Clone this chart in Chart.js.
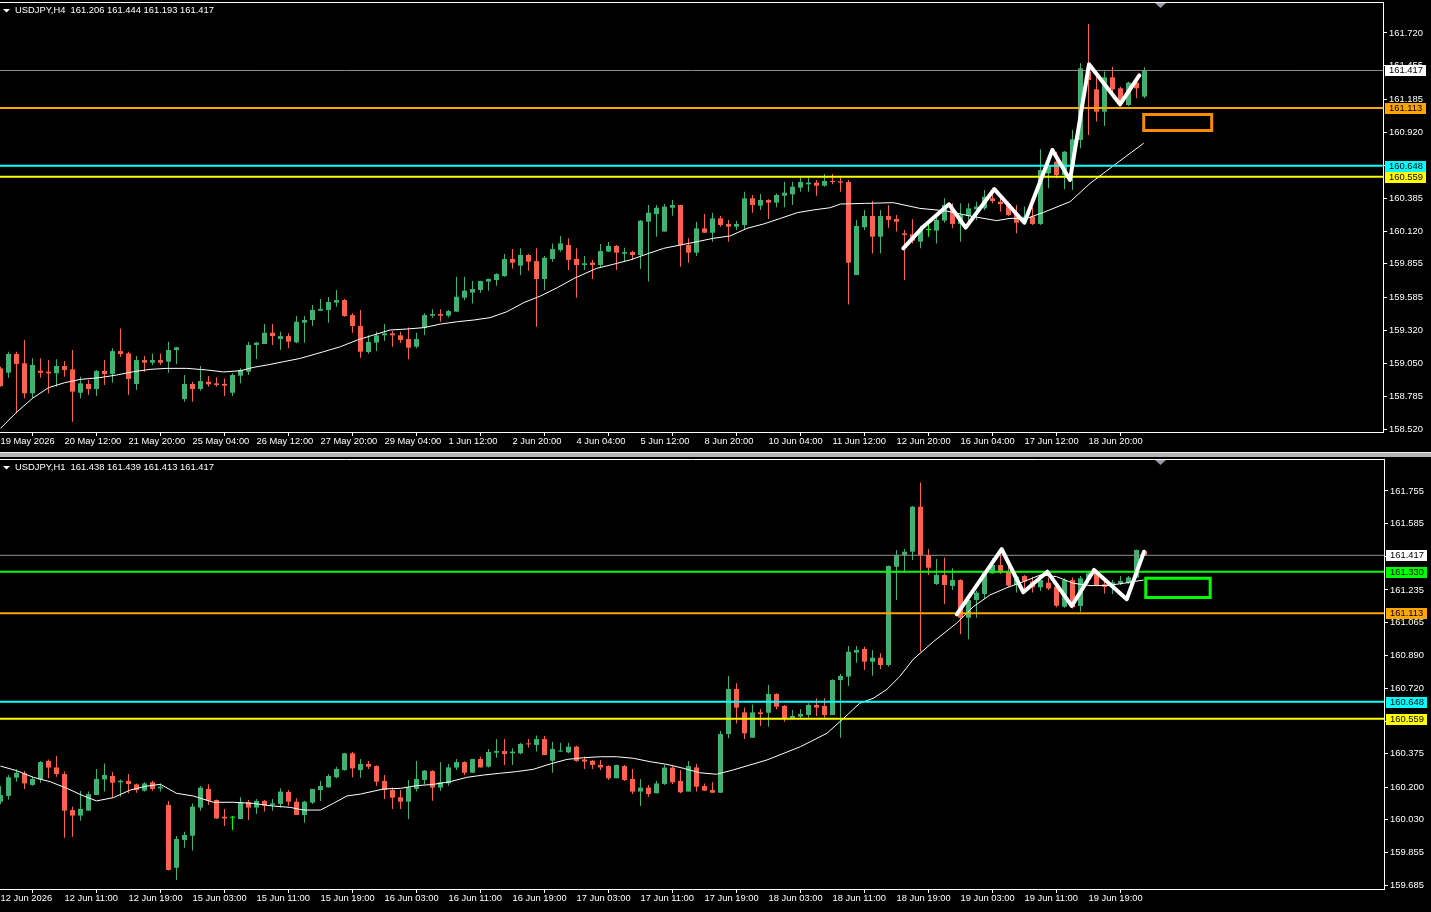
<!DOCTYPE html>
<html lang="en">
<head>
<meta charset="UTF-8">
<title>USDJPY H4 / H1</title>
<script src="https://cdn.jsdelivr.net/npm/chart.js@4.4.1/dist/chart.umd.min.js"></script>
<style>
  html, body { margin: 0; padding: 0; background: #000; overflow: hidden; }
  .pane { position: absolute; left: 0; width: 1431px; }
  .pane canvas { display: block; }
  #sep { position: absolute; left: 0; top: 452px; width: 1431px; height: 5px; background: #b4b4b4; border-top: 1px solid #e8e8e8; box-sizing: border-box; }
</style>
</head>
<body>
<div class="pane" style="top:0;height:452px"><canvas id="h4Chart" width="1431" height="452"></canvas></div>
<div id="sep"></div>
<div class="pane" style="top:458px;height:454px"><canvas id="h1Chart" width="1431" height="454"></canvas></div>

<script>
// ---------- H4 pane ----------
const h4TickIdx = [0, 8, 16, 24, 32, 40, 48, 56, 64, 72, 80, 88, 96, 104, 112, 120, 128, 136];
const h4TickLabels = ['19 May 2026', '20 May 12:00', '21 May 20:00', '25 May 04:00', '26 May 12:00', '27 May 20:00',
  '29 May 04:00', '1 Jun 12:00', '2 Jun 20:00', '4 Jun 04:00', '5 Jun 12:00', '8 Jun 20:00', '10 Jun 04:00',
  '11 Jun 12:00', '12 Jun 20:00', '16 Jun 04:00', '17 Jun 12:00', '18 Jun 20:00'];
const h4PriceTicks = [161.720, 161.455, 161.185, 160.920, 160.650, 160.385, 160.120, 159.855, 159.585, 159.320, 159.050, 158.785, 158.520];

const h4Open = [
  159.010, 158.975, 159.126, 159.051, 158.808, 158.991, 158.983, 158.970, 159.029, 159.002,
  158.813, 158.884, 158.843, 158.989, 158.964, 159.150, 159.131, 158.884, 159.077, 159.056,
  159.077, 159.064, 159.158, 158.762, 158.884, 158.843, 158.902, 158.889, 158.884, 158.813,
  158.951, 158.983, 159.199, 159.207, 159.298, 159.247, 159.271, 159.220, 159.379, 159.401,
  159.476, 159.482, 159.541, 159.562, 159.441, 159.352, 159.142, 159.218, 159.277, 159.293,
  159.277, 159.247, 159.185, 159.339, 159.436, 159.449, 159.436, 159.468, 159.581, 159.622,
  159.643, 159.711, 159.724, 159.756, 159.894, 159.840, 159.926, 159.877, 159.732, 159.894,
  159.966, 160.007, 159.894, 159.845, 159.864, 159.845, 159.953, 159.999, 159.937, 159.950,
  159.926, 160.195, 160.257, 160.115, 160.308, 160.330, 160.007, 159.945, 160.141, 160.106,
  160.222, 160.177, 160.155, 160.168, 160.384, 160.325, 160.371, 160.349, 160.405, 160.416,
  160.470, 160.497, 160.511, 160.486, 160.524, 160.521, 160.516, 159.764, 160.150, 160.241,
  160.074, 160.241, 160.217, 160.101, 160.093, 160.034, 160.128, 160.123, 160.204, 160.295,
  160.177, 160.241, 160.295, 160.303, 160.384, 160.357, 160.338, 160.263, 160.214, 160.236,
  160.177, 160.586, 160.680, 160.572, 160.640, 160.855, 161.408, 161.265, 161.084, 161.362,
  161.273, 161.138, 161.319, 161.206];
const h4High = [
  159.024, 159.145, 159.145, 159.239, 159.091, 159.091, 159.077, 159.083, 159.069, 159.158,
  158.943, 158.916, 158.997, 159.077, 159.172, 159.333, 159.145, 159.110, 159.110, 159.131,
  159.131, 159.226, 159.185, 158.956, 158.902, 159.029, 158.948, 158.937, 158.929, 158.970,
  159.010, 159.226, 159.223, 159.368, 159.368, 159.306, 159.293, 159.433, 159.433, 159.522,
  159.570, 159.587, 159.643, 159.570, 159.455, 159.482, 159.277, 159.306, 159.368, 159.312,
  159.306, 159.341, 159.298, 159.455, 159.487, 159.487, 159.482, 159.751, 159.751, 159.716,
  159.719, 159.737, 159.778, 159.934, 159.974, 159.980, 159.934, 159.980, 159.918, 160.020,
  160.080, 160.061, 159.980, 159.918, 159.886, 160.015, 160.031, 160.007, 159.985, 159.961,
  160.209, 160.330, 160.330, 160.338, 160.371, 160.330, 160.061, 160.195, 160.257, 160.268,
  160.241, 160.209, 160.201, 160.438, 160.411, 160.419, 160.376, 160.424, 160.519, 160.519,
  160.551, 160.551, 160.532, 160.581, 160.581, 160.551, 160.532, 160.209, 160.290, 160.362,
  160.290, 160.330, 160.249, 160.128, 160.214, 160.163, 160.182, 160.263, 160.384, 160.344,
  160.344, 160.344, 160.357, 160.451, 160.438, 160.411, 160.357, 160.330, 160.317, 160.311,
  160.780, 160.680, 160.761, 160.766, 160.936, 161.475, 161.793, 161.381, 161.408, 161.448,
  161.286, 161.327, 161.340, 161.444];
const h4Low = [
  158.862, 158.935, 158.646, 158.768, 158.768, 158.935, 158.808, 158.862, 158.943, 158.579,
  158.768, 158.795, 158.787, 158.876, 158.894, 159.104, 158.795, 158.835, 158.983, 159.037,
  159.037, 158.975, 159.045, 158.741, 158.741, 158.830, 158.862, 158.862, 158.787, 158.787,
  158.889, 158.956, 159.086, 159.207, 159.199, 159.158, 159.172, 159.212, 159.218, 159.352,
  159.476, 159.379, 159.508, 159.428, 159.298, 159.096, 159.129, 159.150, 159.231, 159.185,
  159.218, 159.083, 159.172, 159.279, 159.420, 159.387, 159.422, 159.468, 159.562, 159.535,
  159.622, 159.638, 159.678, 159.751, 159.818, 159.764, 159.799, 159.347, 159.643, 159.872,
  159.953, 159.805, 159.581, 159.805, 159.732, 159.826, 159.950, 159.805, 159.878, 159.886,
  159.813, 159.711, 160.074, 160.115, 160.244, 159.832, 159.864, 159.918, 160.106, 160.034,
  160.155, 160.034, 160.128, 160.128, 160.268, 160.290, 160.217, 160.311, 160.311, 160.330,
  160.438, 160.438, 160.405, 160.478, 160.497, 160.438, 159.527, 159.764, 160.128, 159.939,
  159.939, 160.147, 160.115, 159.724, 160.020, 159.980, 160.074, 160.020, 160.187, 160.142,
  160.034, 160.195, 160.209, 160.290, 160.344, 160.276, 160.241, 160.101, 160.182, 160.168,
  160.168, 160.465, 160.546, 160.457, 160.451, 160.788, 160.896, 161.004, 160.969, 161.206,
  161.125, 161.130, 161.192, 161.193];
const h4Close = [
  158.867, 159.126, 159.045, 158.808, 159.037, 158.975, 158.970, 159.029, 158.997, 158.822,
  158.889, 158.843, 158.989, 158.964, 159.150, 159.126, 158.924, 159.077, 159.056, 159.077,
  159.056, 159.158, 159.180, 158.884, 158.843, 158.908, 158.881, 158.876, 158.870, 158.956,
  158.997, 159.199, 159.218, 159.298, 159.271, 159.271, 159.226, 159.387, 159.401, 159.482,
  159.490, 159.546, 159.562, 159.433, 159.352, 159.145, 159.223, 159.277, 159.293, 159.277,
  159.239, 159.177, 159.247, 159.441, 159.449, 159.436, 159.473, 159.589, 159.638, 159.651,
  159.716, 159.732, 159.772, 159.894, 159.864, 159.926, 159.872, 159.732, 159.904, 159.974,
  160.020, 159.886, 159.845, 159.859, 159.845, 159.958, 159.999, 159.945, 159.950, 159.926,
  160.203, 160.268, 160.308, 160.317, 160.330, 160.007, 159.945, 160.141, 160.106, 160.222,
  160.168, 160.155, 160.177, 160.384, 160.330, 160.371, 160.349, 160.411, 160.430, 160.478,
  160.516, 160.511, 160.486, 160.524, 160.516, 160.511, 159.864, 160.160, 160.241, 160.074,
  160.241, 160.209, 160.195, 160.088, 160.042, 160.128, 160.128, 160.209, 160.330, 160.177,
  160.249, 160.303, 160.317, 160.397, 160.362, 160.338, 160.249, 160.187, 160.236, 160.177,
  160.613, 160.653, 160.572, 160.761, 160.861, 161.434, 161.340, 161.084, 161.362, 161.265,
  161.146, 161.319, 161.273, 161.417];

// moving average (bar index, price)
const h4MaX = [0, 2, 4, 6, 8, 10, 12.4, 14.5, 16.6, 18.7, 20.8, 23.3, 25.8, 27.9, 30, 31.6, 33.3, 35.4, 37.5,
  40.4, 42.5, 44.6, 46.6, 48.7, 50.8, 52.9, 55, 57.1, 59.2, 61.2, 63.3, 65.4, 67.5, 69.6, 71.7,
  74.5, 76.6, 78.7, 80.8, 82.9, 85, 87.1, 89.1, 91.2, 93.3, 95.4, 97.5, 99.6, 101.6, 103.7, 105, 108,
  111.6, 114.9, 118.2, 121.2, 124.5, 126.2, 128.3, 130.4, 133.7, 136.2, 138.7, 141.2, 142.9];
const h4MaY = [158.525, 158.655, 158.768, 158.854, 158.894, 158.921, 158.935, 158.956, 158.983, 159.002, 159.010,
  159.010, 158.997, 158.981, 158.991, 159.018, 159.037, 159.064, 159.091,
  159.145, 159.185, 159.239, 159.279, 159.320, 159.328, 159.339, 159.368, 159.387, 159.401, 159.420, 159.468,
  159.541, 159.595, 159.662, 159.737,
  159.818, 159.851, 159.886, 159.934, 159.980, 160.007, 160.034, 160.061, 160.080, 160.141, 160.177, 160.222,
  160.268, 160.290, 160.308, 160.338, 160.343,
  160.349, 160.303, 160.282, 160.241, 160.204, 160.222, 160.222, 160.271, 160.357, 160.505, 160.627, 160.748, 160.829];

// hand-drawn zigzag and target box
const h4ZigX = [112.85, 115.35, 118.56, 120.65, 124.23, 127.98, 131.48, 133.69, 136.06, 139.94, 142.35];
const h4ZigY = [159.980, 160.155, 160.336, 160.147, 160.459, 160.187, 160.775, 160.532, 161.467, 161.144, 161.378];
const h4BoxX = [142.9, 151.4];
const h4BoxY = [161.061, 160.932];
const h4Levels = [161.417, 161.113, 160.648, 160.559];

// ---------- H1 pane ----------
const h1TickIdx = [0, 8, 16, 24, 32, 40, 48, 56, 64, 72, 80, 88, 96, 104, 112, 120, 128, 136];
const h1TickLabels = ['12 Jun 2026', '12 Jun 11:00', '12 Jun 19:00', '15 Jun 03:00', '15 Jun 11:00', '15 Jun 19:00',
  '16 Jun 03:00', '16 Jun 11:00', '16 Jun 19:00', '17 Jun 03:00', '17 Jun 11:00', '17 Jun 19:00', '18 Jun 03:00',
  '18 Jun 11:00', '18 Jun 19:00', '19 Jun 03:00', '19 Jun 11:00', '19 Jun 19:00'];
const h1PriceTicks = [161.755, 161.585, 161.410, 161.235, 161.065, 160.890, 160.720, 160.545, 160.375, 160.200, 160.030, 159.855, 159.685];

const h1Open = [
  160.123, 160.153, 160.249, 160.272, 160.211, 160.240, 160.337, 160.303, 160.268, 160.079,
  160.050, 160.076, 160.158, 160.240, 160.258, 160.225, 160.232, 160.214, 160.181, 160.225,
  160.193, 160.106, 159.776, 159.922, 159.944, 160.092, 160.190, 160.132, 160.044, 160.039,
  160.032, 160.120, 160.092, 160.127, 160.106, 160.111, 160.174, 160.123, 160.053, 160.118,
  160.184, 160.198, 160.251, 160.289, 160.377, 160.289, 160.321, 160.310, 160.232, 160.184,
  160.146, 160.123, 160.190, 160.237, 160.284, 160.197, 160.219, 160.302, 160.331, 160.275,
  160.347, 160.307, 160.380, 160.389, 160.377, 160.377, 160.429, 160.421, 160.452, 160.338,
  160.386, 160.382, 160.412, 160.345, 160.338, 160.316, 160.310, 160.246, 160.310, 160.242,
  160.176, 160.197, 160.167, 160.216, 160.302, 160.232, 160.176, 160.303, 160.205, 160.184,
  160.170, 160.478, 160.715, 160.592, 160.459, 160.592, 160.590, 160.689, 160.626, 160.561,
  160.570, 160.578, 160.631, 160.626, 160.578, 160.762, 160.780, 160.906, 160.925, 160.858,
  160.879, 160.841, 161.357, 161.419, 161.436, 161.672, 161.419, 161.266, 161.314, 161.256,
  161.287, 161.089, 161.182, 161.214, 161.322, 161.366, 161.331, 161.261, 161.308, 161.279,
  161.249, 161.273, 161.252, 161.147, 161.287, 161.151, 161.291, 161.326, 161.265, 161.252,
  161.270, 161.270, 161.300, 161.438];
const h1High = [
  160.205, 160.263, 160.293, 160.284, 160.254, 160.337, 160.345, 160.363, 160.281, 160.097,
  160.179, 160.176, 160.295, 160.324, 160.279, 160.240, 160.268, 160.219, 160.225, 160.233,
  160.219, 160.127, 159.943, 159.965, 160.114, 160.205, 160.214, 160.135, 160.085, 160.048,
  160.146, 160.132, 160.137, 160.132, 160.137, 160.193, 160.184, 160.141, 160.128, 160.190,
  160.232, 160.267, 160.307, 160.380, 160.384, 160.347, 160.337, 160.314, 160.263, 160.198,
  160.184, 160.237, 160.337, 160.289, 160.288, 160.331, 160.321, 160.347, 160.335, 160.349,
  160.359, 160.400, 160.452, 160.452, 160.403, 160.433, 160.452, 160.470, 160.468, 160.438,
  160.433, 160.433, 160.417, 160.359, 160.342, 160.342, 160.314, 160.317, 160.316, 160.295,
  160.242, 160.211, 160.232, 160.316, 160.310, 160.289, 160.337, 160.321, 160.219, 160.225,
  160.494, 160.783, 160.745, 160.618, 160.634, 160.610, 160.736, 160.692, 160.631, 160.605,
  160.610, 160.640, 160.666, 160.666, 160.766, 160.794, 160.941, 160.941, 160.937, 160.920,
  160.902, 161.363, 161.445, 161.450, 161.676, 161.800, 161.450, 161.398, 161.406, 161.349,
  161.291, 161.191, 161.231, 161.331, 161.401, 161.427, 161.366, 161.308, 161.314, 161.305,
  161.305, 161.301, 161.261, 161.296, 161.301, 161.308, 161.331, 161.335, 161.279, 161.287,
  161.308, 161.308, 161.448, 161.439];
const h1Low = [
  160.111, 160.135, 160.228, 160.190, 160.207, 160.223, 160.246, 160.254, 159.934, 159.939,
  160.023, 160.076, 160.158, 160.176, 160.144, 160.149, 160.167, 160.170, 160.176, 160.181,
  160.176, 159.761, 159.712, 159.881, 159.866, 160.076, 160.106, 160.032, 159.995, 159.974,
  160.032, 160.027, 160.058, 160.071, 160.076, 160.093, 160.102, 160.053, 160.013, 160.111,
  160.127, 160.197, 160.246, 160.286, 160.251, 160.249, 160.295, 160.207, 160.137, 160.084,
  160.084, 160.032, 160.176, 160.214, 160.128, 160.181, 160.207, 160.289, 160.263, 160.274,
  160.302, 160.303, 160.354, 160.316, 160.316, 160.372, 160.407, 160.386, 160.368, 160.275,
  160.386, 160.377, 160.333, 160.295, 160.295, 160.289, 160.237, 160.246, 160.232, 160.163,
  160.100, 160.149, 160.167, 160.211, 160.216, 160.167, 160.176, 160.176, 160.181, 160.170,
  160.170, 160.456, 160.534, 160.452, 160.459, 160.520, 160.517, 160.608, 160.543, 160.556,
  160.557, 160.564, 160.573, 160.564, 160.578, 160.459, 160.731, 160.853, 160.815, 160.785,
  160.820, 160.832, 161.182, 161.326, 161.392, 160.911, 161.314, 161.261, 161.161, 161.235,
  161.002, 160.976, 161.089, 161.187, 161.322, 161.319, 161.252, 161.222, 161.231, 161.221,
  161.231, 161.235, 161.144, 161.142, 161.138, 161.121, 161.270, 161.258, 161.217, 161.214,
  161.261, 161.266, 161.296, 161.413];
const h1Close = [
  160.158, 160.251, 160.275, 160.219, 160.242, 160.331, 160.302, 160.268, 160.076, 160.050,
  160.085, 160.163, 160.242, 160.263, 160.223, 160.233, 160.216, 160.184, 160.219, 160.190,
  160.202, 159.764, 159.927, 159.948, 160.097, 160.197, 160.128, 160.035, 160.035, 160.039,
  160.120, 160.092, 160.127, 160.102, 160.114, 160.176, 160.123, 160.053, 160.123, 160.190,
  160.205, 160.258, 160.295, 160.377, 160.298, 160.321, 160.307, 160.228, 160.184, 160.144,
  160.123, 160.198, 160.242, 160.286, 160.197, 160.225, 160.303, 160.331, 160.275, 160.347,
  160.303, 160.384, 160.389, 160.373, 160.386, 160.426, 160.424, 160.452, 160.368, 160.400,
  160.389, 160.412, 160.337, 160.333, 160.316, 160.303, 160.246, 160.316, 160.237, 160.176,
  160.197, 160.163, 160.219, 160.302, 160.225, 160.172, 160.310, 160.202, 160.181, 160.170,
  160.478, 160.715, 160.617, 160.482, 160.592, 160.583, 160.689, 160.622, 160.561, 160.573,
  160.584, 160.631, 160.617, 160.578, 160.762, 160.783, 160.911, 160.920, 160.858, 160.879,
  160.841, 161.361, 161.419, 161.436, 161.672, 161.419, 161.352, 161.314, 161.261, 161.287,
  161.089, 161.182, 161.221, 161.326, 161.366, 161.326, 161.258, 161.305, 161.279, 161.249,
  161.287, 161.243, 161.152, 161.287, 161.144, 161.296, 161.322, 161.261, 161.252, 161.275,
  161.282, 161.301, 161.445, 161.417];

const h1MaX = [0, 2, 4.1, 6.2, 8.3, 10.4, 12, 14.1, 16.2, 18.3, 20, 22, 24.1, 26.6, 29.1, 31.6, 34.1, 36.2, 37.9, 40,
  41.6, 43.3, 45, 47.9, 50, 52, 54.1, 56.2, 58.3, 60.4, 62.4, 64.5, 66.6, 68.7, 70.8, 72.9, 75, 77, 79.1, 81.2,
  83.3, 85.4, 87.4, 89.5, 91.6, 95.8, 100, 103.3, 105.4, 107.4, 109.1, 110.8, 112.4, 114.1, 116.6,
  119.5, 121.6, 123.7, 125.8, 127.9, 130, 132, 134.1, 136.2, 138.3, 140.4, 141.6, 142.9];
const h1MaY = [160.310, 160.286, 160.251, 160.228, 160.193, 160.153, 160.127, 160.144, 160.184, 160.205,
  160.214, 160.167, 160.153, 160.120, 160.120, 160.114, 160.100, 160.093, 160.079, 160.079,
  160.114, 160.153, 160.163, 160.190, 160.193, 160.207, 160.214, 160.228, 160.251, 160.263,
  160.272, 160.281, 160.293, 160.321, 160.345, 160.354, 160.359, 160.359, 160.351, 160.333,
  160.319, 160.298, 160.275, 160.267, 160.290, 160.342, 160.412, 160.482, 160.561, 160.640,
  160.666, 160.713, 160.780, 160.871, 160.963,
  161.060, 161.147, 161.209, 161.247, 161.279, 161.314, 161.305, 161.270, 161.258, 161.258, 161.270, 161.279, 161.287];

const h1ZigX = [119.53, 125.15, 127.85, 130.85, 133.9, 136.69, 140.78, 142.94];
const h1ZigY = [161.107, 161.449, 161.223, 161.331, 161.151, 161.340, 161.186, 161.436];
const h1BoxX = [143.16, 151.21];
const h1BoxY = [161.297, 161.195];
const h1Levels = [161.417, 161.330, 161.113, 160.648, 160.559];

// ---------- drawing ----------
const BULL = '#3CB371', BEAR = '#FF6347', DOJI = '#00FF00';
const FONT = '"Liberation Sans", Arial, sans-serif';
const FONT_SIZE = 9.4;
Chart.defaults.font.family = FONT;
Chart.defaults.font.size = FONT_SIZE;
Chart.defaults.color = '#ffffff';

const bidStyle = { color: '#8f8f8f', width: 1, tag: '#ffffff' };
const orangeStyle = { color: '#FFA500', width: 2, tag: '#FFA500' };
const cyanStyle = { color: '#00FFFF', width: 2, tag: '#00FFFF' };
const yellowStyle = { color: '#FFFF00', width: 2, tag: '#FFFF00' };
const greenStyle = { color: '#00FF00', width: 2, tag: '#00FF00' };

function line(data, color, width, order, extra) {
  return Object.assign({
    type: 'line', data, borderColor: color, borderWidth: width,
    pointRadius: 0, tension: 0, order
  }, extra || {});
}

function paneChart(canvasId, p) {
  const idx = p.open.map((_, i) => i);
  const colors = idx.map(i => p.close[i] > p.open[i] ? BULL : (p.close[i] < p.open[i] ? BEAR : DOJI));
  const xMin = -0.0625;
  const xMax = xMin + (1431 - p.axisWidth) / 8;

  const datasets = [];
  datasets.push(line(p.zigX.map((x, k) => ({ x, y: p.zigY[k] })), '#ffffff', 4, 0,
    { borderCapStyle: 'round', borderJoinStyle: 'round' }));
  const [bx0, bx1] = p.boxX, [by0, by1] = p.boxY;
  datasets.push(line([{ x: bx0, y: by0 }, { x: bx1, y: by0 }, { x: bx1, y: by1 }, { x: bx0, y: by1 }, { x: bx0, y: by0 }],
    p.boxColor, 3, 1, { borderJoinStyle: 'miter', borderCapStyle: 'square' }));
  p.levels.forEach((v, k) => {
    datasets.push(line([{ x: xMin, y: v }, { x: xMax, y: v }], p.levelStyle[k].color, p.levelStyle[k].width, 2));
  });
  datasets.push(line(p.maX.map((x, k) => ({ x, y: p.maY[k] })), '#ffffff', 1, 3));
  datasets.push({
    type: 'bar', data: idx.map(i => ({ x: i, y: [p.open[i], p.close[i]] })),
    backgroundColor: colors, barThickness: 5, minBarLength: 1, grouped: false,
    inflateAmount: 0, borderWidth: 0, order: 4
  });
  datasets.push({
    type: 'bar', data: idx.map(i => ({ x: i, y: [p.low[i], p.high[i]] })),
    backgroundColor: colors, barThickness: 1, grouped: false,
    inflateAmount: 0, borderWidth: 0, order: 5
  });

  // frame top, title, shift marker, price tags
  const decor = {
    id: 'paneDecor',
    afterDraw(chart) {
      const { ctx, chartArea: a } = chart;
      const y = chart.scales.y;
      ctx.save();
      ctx.strokeStyle = '#ffffff';
      ctx.lineWidth = 1;
      ctx.beginPath();
      ctx.moveTo(0, a.top + 0.5);
      ctx.lineTo(a.right + 1, a.top + 0.5);
      ctx.stroke();

      ctx.fillStyle = '#ffffff';
      ctx.beginPath();
      ctx.moveTo(3, a.top + 7); ctx.lineTo(10, a.top + 7); ctx.lineTo(6.5, a.top + 10.5);
      ctx.closePath(); ctx.fill();
      ctx.font = FONT_SIZE + 'px ' + FONT;
      ctx.textAlign = 'left';
      ctx.textBaseline = 'middle';
      ctx.fillText(p.title, 15, a.top + 8.5);

      ctx.fillStyle = '#9a9aa6';
      ctx.beginPath();
      ctx.moveTo(1155, a.top + 1); ctx.lineTo(1166, a.top + 1); ctx.lineTo(1160.5, a.top + 6);
      ctx.closePath(); ctx.fill();

      p.levels.forEach((v, k) => {
        const py = Math.round(y.getPixelForValue(v));
        ctx.fillStyle = p.levelStyle[k].tag;
        ctx.fillRect(a.right + 2, py - 5, 41, 11);
        ctx.fillStyle = '#000000';
        ctx.fillText(v.toFixed(3), a.right + 6, py + 0.5);
      });
      ctx.restore();
    }
  };

  return new Chart(document.getElementById(canvasId), {
    type: 'bar',
    data: { datasets },
    options: {
      responsive: false,
      animation: false,
      events: [],
      layout: { padding: { top: p.padTop, left: 0, right: 0, bottom: 0 } },
      plugins: { legend: { display: false }, tooltip: { enabled: false } },
      scales: {
        x: {
          type: 'linear', position: 'bottom', min: xMin, max: xMax, bounds: 'data', offset: false,
          afterBuildTicks: s => { s.ticks = p.tickIdx.map(v => ({ value: v })); },
          afterFit: s => { s.height = p.xAxisHeight; s.paddingLeft = 0; s.paddingRight = 0; },
          ticks: {
            autoSkip: false, maxRotation: 0, minRotation: 0, align: 'start', padding: 0, color: '#ffffff',
            callback: v => p.tickLabels[p.tickIdx.indexOf(v)]
          },
          grid: { drawOnChartArea: false, drawTicks: true, tickLength: 4, color: '#ffffff' },
          border: { display: true, color: '#ffffff', width: 1 }
        },
        y: {
          type: 'linear', position: 'right', min: p.yMin, max: p.yMax, bounds: 'data', beginAtZero: false,
          afterBuildTicks: s => { s.ticks = p.priceTicks.map(v => ({ value: v })); },
          afterFit: s => { s.width = p.axisWidth; s.paddingTop = 0; s.paddingBottom = 0; },
          ticks: { autoSkip: false, padding: 2, color: '#ffffff', callback: v => v.toFixed(3) },
          grid: { drawOnChartArea: false, drawTicks: true, tickLength: 4, color: '#ffffff' },
          border: { display: true, color: '#ffffff', width: 1 }
        }
      }
    },
    plugins: [decor]
  });
}

paneChart('h4Chart', {
  title: 'USDJPY,H4  161.206 161.444 161.193 161.417',
  open: h4Open, high: h4High, low: h4Low, close: h4Close,
  maX: h4MaX, maY: h4MaY, zigX: h4ZigX, zigY: h4ZigY,
  boxX: h4BoxX, boxY: h4BoxY, boxColor: '#FF8C00',
  levels: h4Levels, levelStyle: [bidStyle, orangeStyle, cyanStyle, yellowStyle],
  tickIdx: h4TickIdx, tickLabels: h4TickLabels, priceTicks: h4PriceTicks,
  yMin: 158.4958, yMax: 161.9705, padTop: 2, xAxisHeight: 20, axisWidth: 48
});

paneChart('h1Chart', {
  title: 'USDJPY,H1  161.438 161.439 161.413 161.417',
  open: h1Open, high: h1High, low: h1Low, close: h1Close,
  maX: h1MaX, maY: h1MaY, zigX: h1ZigX, zigY: h1ZigY,
  boxX: h1BoxX, boxY: h1BoxY, boxColor: '#00FF00',
  levels: h1Levels, levelStyle: [bidStyle, greenStyle, orangeStyle, cyanStyle, yellowStyle],
  tickIdx: h1TickIdx, tickLabels: h1TickLabels, priceTicks: h1PriceTicks,
  yMin: 159.6644, yMax: 161.9228, padTop: 1, xAxisHeight: 23, axisWidth: 47
});
</script>
</body>
</html>
